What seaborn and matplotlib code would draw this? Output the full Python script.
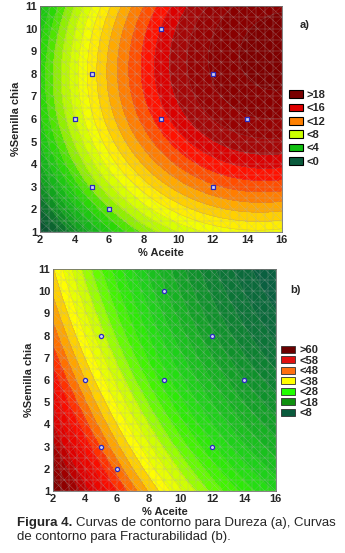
import numpy as np
import matplotlib
matplotlib.use("Agg")
import matplotlib.pyplot as plt
import seaborn as sns
import pandas as pd
from matplotlib.colors import LinearSegmentedColormap
from matplotlib.patches import Patch

# design points (% Aceite, % Semilla chia)
aceite = [9, 5, 12, 4, 9, 14, 5, 12, 6]
semilla = [10, 8, 8, 6, 6, 6, 3, 3, 2]

# fitted quadratic surfaces, centred at (9, 6): [c0, u, v, u^2, v^2, uv]
coef_dureza = [15.48, 1.086, 0.81, -0.084, -0.17, 0.03]
coef_fract = [25.0, -2.6, -2.0, 0.082, 0.08, 0.03]

levels_dureza = np.arange(-8, 23, 1)
levels_fract = np.arange(-4, 72, 2)

legend_a = [">18", "<16", "<12", "<8", "<4", "<0"]
legend_a_col = ["#7a0000", "#e00000", "#ff8000", "#ccff00", "#10c010", "#0a5a3c"]
legend_b = [">60", "<58", "<48", "<38", "<28", "<18", "<8"]
legend_b_col = ["#6a0000", "#e01010", "#ff7010", "#ffff00", "#20ff00", "#109010", "#0a5a3c"]

# colour anchors (value, colour)
anchors_a = [(-3, "#0a5030"), (-1, "#0c6a30"), (1, "#109a20"), (3, "#18c018"),
             (5, "#30e000"), (6.5, "#90f000"), (8, "#ccff00"), (10, "#ffff00"),
             (12, "#ffc000"), (13.5, "#ff8000"), (14.8, "#ff4000"), (15.8, "#ff0000"),
             (16.5, "#e00000"), (17.2, "#a80808"), (19, "#900000"), (21, "#780000")]
anchors_b = [(0, "#0a5a40"), (5, "#0a6040"), (10, "#0c7a34"), (14, "#109a28"),
             (18, "#18b820"), (22, "#20d818"), (26, "#30f000"), (29.5, "#70ff00"),
             (32.5, "#c8ff00"), (37, "#ffff00"), (40.5, "#ffb000"), (42.5, "#ff8000"),
             (44.5, "#ff4000"), (46, "#ff1000"), (51, "#e00000"), (55, "#a00000"),
             (59, "#800000"), (63, "#700000")]


def make_cmap(name, anchors):
    lo, hi = anchors[0][0], anchors[-1][0]
    cm = LinearSegmentedColormap.from_list(name, [((v - lo) / (hi - lo), c) for v, c in anchors])
    return cm, lo, hi


sns.set_theme(style="white")
plt.rcParams["font.family"] = ["Liberation Sans", "DejaVu Sans"]

gx, gy = np.meshgrid(np.linspace(2, 16, 200), np.linspace(1, 11, 200))


def surface(c):
    u = gx - 9
    v = gy - 6
    return c[0] + c[1] * u + c[2] * v + c[3] * u ** 2 + c[4] * v ** 2 + c[5] * u * v


def panel(ax, coef, levels, anchors, marker):
    cmap, vmin, vmax = make_cmap("m", anchors)
    z = surface(coef)
    ax.contourf(gx, gy, z, levels=levels, cmap=cmap, vmin=vmin, vmax=vmax, extend="both")
    ax.contour(gx, gy, z, levels=levels, colors="#909090", linewidths=0.3, alpha=0.45)
    # statistica style mesh
    for k in np.arange(2, 16.01, 0.5):
        ax.axvline(k, color="#b0b0b0", lw=0.35, alpha=0.55)
    for k in np.arange(1, 11.01, 0.5):
        ax.axhline(k, color="#b0b0b0", lw=0.35, alpha=0.55)
    for k in np.arange(-1, 2, 0.05):
        ax.plot([k, k + 1], [1, 0], transform=ax.transAxes, color="#b8b8b8", lw=0.35, alpha=0.5)
        ax.plot([k, k + 1], [0, 1], transform=ax.transAxes, color="#b8b8b8", lw=0.3, alpha=0.35)
    pts = pd.DataFrame({"x": aceite, "y": semilla})
    ax.scatter(pts["x"], pts["y"], marker=marker, s=9, facecolors="#d0d0f0",
               edgecolors="#2a2ac0", linewidths=0.9, zorder=5)
    ax.set_xlim(2, 16)
    ax.set_ylim(1, 11)
    ax.set_xticks(range(2, 17, 2))
    ax.set_yticks(range(1, 12))
    ax.tick_params(labelsize=8, length=0, pad=2)
    for t in ax.get_xticklabels() + ax.get_yticklabels():
        t.set_fontweight("bold")
    ax.set_xlabel("% Aceite", fontsize=8, fontweight="bold", labelpad=2)
    ax.set_ylabel("%Semilla chia", fontsize=8, fontweight="bold", labelpad=3)
    for s in ax.spines.values():
        s.set_color("#707070")
        s.set_linewidth(0.6)


fig = plt.figure(figsize=(3.45, 5.53), dpi=100)
ax1 = fig.add_axes([0.116, 0.5805, 0.701, 0.4087])
ax2 = fig.add_axes([0.1536, 0.1121, 0.646, 0.4014])

panel(ax1, coef_dureza, levels_dureza, anchors_a, "s")
panel(ax2, coef_fract, levels_fract, anchors_b, "o")

fig.text(300 / 345, 1 - 25 / 553, "a)", fontsize=8, fontweight="bold", va="center")
fig.text(290 / 345, 1 - 290 / 553, "b)", fontsize=8, fontweight="bold", va="center")

h_a = [Patch(facecolor=c, edgecolor="black", linewidth=0.8) for c in legend_a_col]
fig.legend(h_a, legend_a, loc="upper left", bbox_to_anchor=(289 / 345, 1 - 90 / 553),
           frameon=False, handlelength=1.3, handleheight=0.7,
           handletextpad=0.3, labelspacing=0.3, borderaxespad=0, borderpad=0,
           prop={"weight": "bold", "size": 8})
h_b = [Patch(facecolor=c, edgecolor="#303030", linewidth=0.6) for c in legend_b_col]
fig.legend(h_b, legend_b, loc="upper left", bbox_to_anchor=(281 / 345, 1 - 345 / 553),
           frameon=False, handlelength=1.3, handleheight=0.6,
           handletextpad=0.4, labelspacing=0.05, borderaxespad=0, borderpad=0,
           prop={"weight": "bold", "size": 8})

# caption (first line justified to the right edge)
fig.text(17 / 345, 1 - 523 / 553, "Figura 4.", fontsize=9.5, fontweight="bold", va="center")
fig.text(336 / 345, 1 - 523 / 553, "Curvas de contorno para Dureza (a), Curvas",
         fontsize=9.5, va="center", ha="right")
fig.text(17 / 345, 1 - 537 / 553, "de contorno para Fracturabilidad (b).", fontsize=9.5, va="center")

fig.savefig("out.png", dpi=100)
